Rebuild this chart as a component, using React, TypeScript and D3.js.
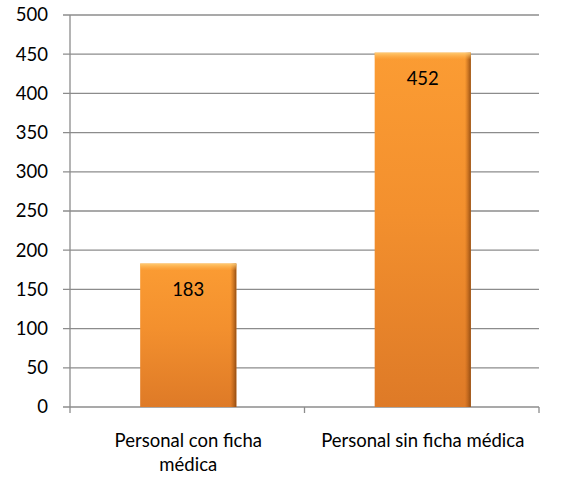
import React, { useEffect, useRef } from 'react';
import * as d3 from 'd3';

const categories = ['Personal con ficha médica', 'Personal sin ficha médica'];
const categoryLines = [['Personal con ficha', 'médica'], ['Personal sin ficha médica']];
const values = [183, 452];
const yTicks = [0, 50, 100, 150, 200, 250, 300, 350, 400, 450, 500];

const App: React.FC = () => {
  const svgRef = useRef<SVGSVGElement>(null);

  useEffect(() => {
    if (!svgRef.current) return;
    const svg = d3.select(svgRef.current);
    svg.selectAll('*').remove();

    const width = 573;
    const height = 480;
    const left = 70, right = 539, top = 15, bottom = 407;
    const font = 'Lato, "Open Sans", sans-serif';
    const fs = '18.5px';

    const x = d3.scaleBand<string>().domain(categories).range([left, right]).padding(0);
    const y = d3.scaleLinear().domain([0, 500]).range([bottom, top]);

    const defs = svg.append('defs');
    const grad = defs.append('linearGradient')
      .attr('id', 'barFill').attr('x1', 0).attr('y1', 0).attr('x2', 0).attr('y2', 1);
    grad.append('stop').attr('offset', '0%').attr('stop-color', '#fb9c33');
    grad.append('stop').attr('offset', '45%').attr('stop-color', '#f3902e');
    grad.append('stop').attr('offset', '100%').attr('stop-color', '#de7a27');

    const side = defs.append('linearGradient')
      .attr('id', 'barSide').attr('x1', 0).attr('y1', 0).attr('x2', 1).attr('y2', 0);
    side.append('stop').attr('offset', '0%').attr('stop-color', '#b05a14').attr('stop-opacity', 0);
    side.append('stop').attr('offset', '100%').attr('stop-color', '#8a4710').attr('stop-opacity', 0.9);

    const topG = defs.append('linearGradient')
      .attr('id', 'barTop').attr('x1', 0).attr('y1', 0).attr('x2', 0).attr('y2', 1);
    topG.append('stop').attr('offset', '0%').attr('stop-color', '#ffd07a').attr('stop-opacity', 0.9);
    topG.append('stop').attr('offset', '100%').attr('stop-color', '#ffb550').attr('stop-opacity', 0);

    svg.attr('width', width).attr('height', height);

    // gridlines
    svg.append('g').selectAll('line')
      .data(yTicks.filter(t => t > 0))
      .enter().append('line')
      .attr('x1', left - 7).attr('x2', right)
      .attr('y1', d => y(d)).attr('y2', d => y(d))
      .attr('stroke', '#8c8c8c').attr('stroke-width', 1.3);

    // axes
    svg.append('line')
      .attr('x1', left).attr('x2', left).attr('y1', top).attr('y2', bottom)
      .attr('stroke', '#8c8c8c').attr('stroke-width', 1.3);
    svg.append('line')
      .attr('x1', left - 7).attr('x2', right).attr('y1', bottom).attr('y2', bottom)
      .attr('stroke', '#8c8c8c').attr('stroke-width', 1.3);

    // x ticks at band edges
    const edges = [left, ...categories.map(c => (x(c) as number) + x.bandwidth())];
    svg.append('g').selectAll('line')
      .data(edges)
      .enter().append('line')
      .attr('x1', d => d).attr('x2', d => d)
      .attr('y1', bottom).attr('y2', bottom + 6)
      .attr('stroke', '#8c8c8c').attr('stroke-width', 1.3);

    svg.append('g').selectAll('text')
      .data(yTicks)
      .enter().append('text')
      .attr('x', 48).attr('y', d => y(d))
      .attr('dy', '0.35em')
      .attr('text-anchor', 'end')
      .style('font-family', font).style('font-size', fs).style('fill', '#000')
      .text(d => d);

    // bars
    const barW = x.bandwidth() * 0.41;
    const bars = svg.append('g').selectAll('g')
      .data(categories)
      .enter().append('g');

    bars.append('rect')
      .attr('x', d => (x(d) as number) + x.bandwidth() / 2 - barW / 2 + 1)
      .attr('y', (d, i) => y(values[i]))
      .attr('width', barW)
      .attr('height', (d, i) => bottom - y(values[i]))
      .attr('fill', 'url(#barFill)');
    bars.append('rect')
      .attr('x', d => (x(d) as number) + x.bandwidth() / 2 + barW / 2 + 1 - 6)
      .attr('y', (d, i) => y(values[i]))
      .attr('width', 6)
      .attr('height', (d, i) => bottom - y(values[i]))
      .attr('fill', 'url(#barSide)');
    bars.append('rect')
      .attr('x', d => (x(d) as number) + x.bandwidth() / 2 - barW / 2 + 1)
      .attr('y', (d, i) => y(values[i]))
      .attr('width', barW)
      .attr('height', 7)
      .attr('fill', 'url(#barTop)');

    bars.append('text')
      .attr('x', d => (x(d) as number) + x.bandwidth() / 2 + 1)
      .attr('y', (d, i) => y(values[i]) + 26)
      .attr('dy', '0.35em')
      .attr('text-anchor', 'middle')
      .style('font-family', font).style('font-size', fs).style('fill', '#000')
      .text((d, i) => values[i]);

    // category labels
    categories.forEach((c, i) => {
      categoryLines[i].forEach((line, j) => {
        svg.append('text')
          .attr('x', (x(c) as number) + x.bandwidth() / 2 + 1)
          .attr('y', 441 + j * 24)
          .attr('dy', '0.35em')
          .attr('text-anchor', 'middle')
          .style('font-family', font).style('font-size', fs).style('fill', '#000')
          .text(line);
      });
    });
  }, []);

  return <svg ref={svgRef} style={{ position: 'absolute', left: 0, top: 0 }}></svg>;
};

export default App;
